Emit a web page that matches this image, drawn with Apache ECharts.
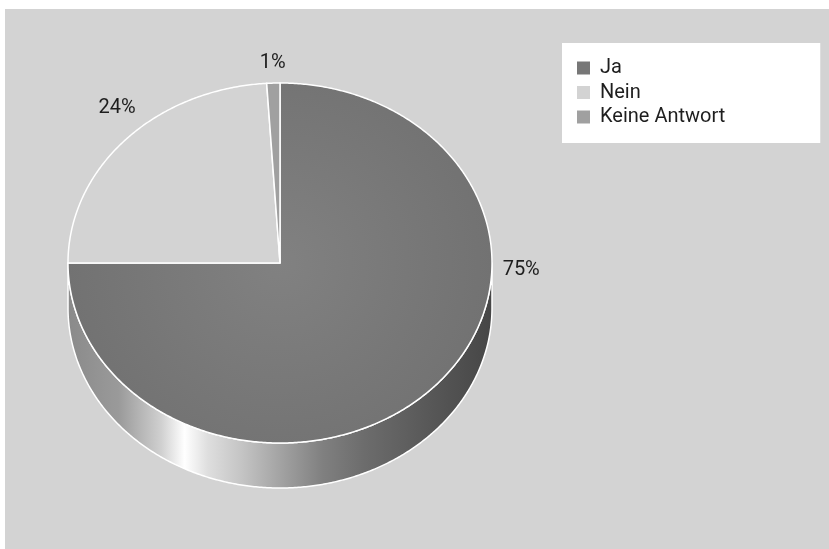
<!DOCTYPE html>
<html><head><meta charset="utf-8">
<script src="https://cdn.jsdelivr.net/npm/echarts@6/dist/echarts.min.js"></script>
<style>html,body{margin:0;padding:0;background:#fff}#c{width:829px;height:549px}</style>
</head><body><div id="c"></div><script>
// ---- data ----
const categories = ['Ja', 'Nein', 'Keine Antwort'];
const values = [75, 24, 1];

// ---- styles / layout ----
const sliceColors = ['#777777', '#d3d3d3', '#a0a0a0'];
const FONT = 'Roboto, "Noto Sans", sans-serif';
const FS = 20;
const L = { cx: 280, cy: 263, rx: 212, ry: 180, depth: 45, labelR: 1.1 };
const labelNudge = [[8, 7], [7, -19], [0, -2]];

const total = values.reduce((a, b) => a + b, 0);
const starts = [];
let acc = 0;
values.forEach(v => { starts.push(acc / total * 360); acc += v; });

function pt(deg, dy, k) {
  k = k || 1;
  const t = deg * Math.PI / 180;
  return [L.cx + L.rx * k * Math.sin(t), L.cy - L.ry * k * Math.cos(t) + (dy || 0)];
}
function arc(a0, a1, dy) {
  const pts = [];
  const n = Math.max(2, Math.ceil(Math.abs(a1 - a0) / 0.5));
  for (let j = 0; j <= n; j++) pts.push(pt(a0 + (a1 - a0) * j / n, dy));
  return pts;
}

const sideGradient = new echarts.graphic.LinearGradient(L.cx - L.rx, 0, L.cx + L.rx, 0, [
  { offset: 0, color: '#8a8a8a' },
  { offset: 0.12, color: '#9a9a9a' },
  { offset: 0.22, color: '#d0d0d0' },
  { offset: 0.275, color: '#ffffff' },
  { offset: 0.33, color: '#dedede' },
  { offset: 0.41, color: '#c4c4c4' },
  { offset: 0.52, color: '#9c9c9c' },
  { offset: 0.6, color: '#808080' },
  { offset: 0.7, color: '#6c6c6c' },
  { offset: 0.85, color: '#585858' },
  { offset: 1, color: '#464646' }
], true);

function topFill(i) {
  if (i !== 0) return sliceColors[i];
  return new echarts.graphic.RadialGradient(L.cx, L.cy, L.rx, [
    { offset: 0, color: '#818181' },
    { offset: 1, color: '#727272' }
  ], true);
}

function makeRender(i) {
  return function () {
    const a0 = starts[i];
    const a1 = a0 + values[i] / total * 360;
    const children = [];
    // side wall (front half: 90..270 deg)
    const s = Math.max(a0, 90), e = Math.min(a1, 270);
    if (e > s) {
      const pts = arc(s, e, 0).concat(arc(e, s, L.depth));
      children.push({
        type: 'polygon', z2: 1,
        shape: { points: pts },
        style: { fill: sideGradient, stroke: '#ffffff', lineWidth: 1.5, lineJoin: 'round' }
      });
    }
    // top face
    const tp = [[L.cx, L.cy]].concat(arc(a0, a1, 0));
    children.push({
      type: 'polygon', z2: 5,
      shape: { points: tp },
      style: { fill: topFill(i), stroke: '#ffffff', lineWidth: 1.5, lineJoin: 'round' }
    });
    // label
    let mid = (a0 + a1) / 2;
    if (mid > 90 && mid < 270) mid = mid < 180 ? 90 : 270;
    const lp = pt(mid, 0, L.labelR);
    children.push({
      type: 'text', z2: 10,
      style: {
        text: Math.round(values[i] / total * 100) + '%',
        x: lp[0] + labelNudge[i][0], y: lp[1] + labelNudge[i][1],
        align: 'center', verticalAlign: 'middle',
        textAlign: 'center', textVerticalAlign: 'middle',
        fill: '#1e1e1e', font: FS + 'px ' + FONT
      }
    });
    return { type: 'group', children: children };
  };
}

const series = categories.map((name, i) => ({
  type: 'custom',
  name: name,
  coordinateSystem: 'none',
  z: i === 0 ? 2 : 3,
  silent: true,
  itemStyle: { color: sliceColors[i] },
  data: [values[i]],
  renderItem: makeRender(i)
}));

const chart = echarts.init(document.getElementById('c'), null, { renderer: 'canvas' });
chart.setOption({
  animation: false,
  backgroundColor: '#ffffff',
  graphic: [{
    type: 'rect', z: -10, silent: true,
    shape: { x: 5, y: 9, width: 824, height: 540 },
    style: { fill: '#d3d3d3' }
  }],
  legend: {
    data: categories,
    orient: 'vertical',
    left: 562, top: 43,
    backgroundColor: '#ffffff',
    padding: [15, 95, 16, 15],
    itemWidth: 13, itemHeight: 13, itemGap: 4.5,
    icon: 'rect',
    selectedMode: false,
    textStyle: { fontFamily: FONT, fontSize: FS, color: '#1e1e1e', lineHeight: 20, padding: [0, 0, 0, 5] }
  },
  series: series
});
</script></body></html>
